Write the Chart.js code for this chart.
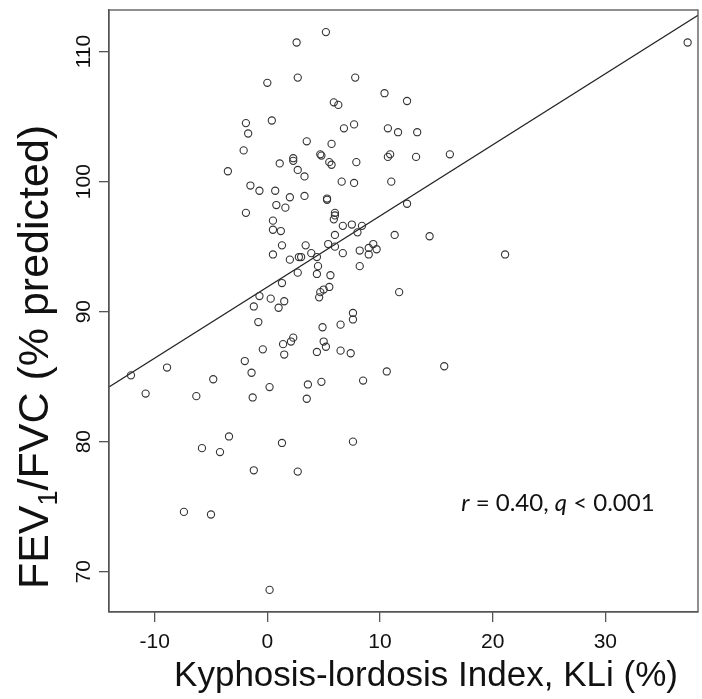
<!DOCTYPE html>
<html>
<head>
<meta charset="utf-8">
<script src="https://cdn.jsdelivr.net/npm/chart.js@4"></script>
<style>
  body { margin: 0; background: #fff; }
  #wrap { width: 702px; height: 699px; }
</style>
</head>
<body>
<div id="wrap"><canvas id="myChart"></canvas></div>
<script>
// Data

const kli = [
    2.6, 2.7, 0.0, -1.9, -1.7, 0.4, -2.1, 2.3, 2.3, 1.1, 2.7, -3.5, -1.5, -0.7, 0.7, 2.0, 5.2,
    7.8, 10.4, 5.9, 6.3, 6.8, 7.7, 10.7, 11.6, 3.5, 5.7, 4.7, 4.8, 5.5, 5.7, 7.9, 10.9, 10.7, 3.3,
    6.6, 7.7, 11.0, 3.3, 5.3, 12.4, 13.3, 13.2, 16.2, 12.4, 11.3, 14.4,
    21.1, 11.7, 10.6, 15.7,
    0.8, 1.6, -1.9, 0.5, 0.5, 1.2, 1.3, 0.5, 2.0, 2.8, 2.7, 1.3, -0.7, 0.3, 1.5, -1.2, 1.0, -0.8,
    2.3, 2.1, 1.4, -0.4, 1.5, -2.0, -1.4, -12.1, -8.9, -4.8, 0.2, -10.8, -6.3, -1.3,
    5.3, 6.0, 6.0, 5.9, 6.7, 7.5, 8.4, 8.0, 6.0, 3.4, 5.4, 6.0, 8.2, 9.0, 9.4, 9.7, 9.0, 6.7, 3.0,
    3.9, 4.4, 8.2, 4.5, 4.4, 5.6, 5.5, 5.0, 4.7, 4.6, 7.6, 7.6, 4.9, 6.5, 5.0, 5.2, 4.4, 6.5, 7.4,
    3.6, 4.8, 8.5, 3.5,
    -3.4, -5.8, -4.2, 1.3, -1.2, 2.7, -7.4, -5.0, 0.2, 7.6, 37.3
];
const fev = [
    110.7, 108.0, 107.6, 104.5, 103.7, 104.7, 102.4, 101.8, 101.6, 101.4, 100.9, 100.8, 99.7, 99.3, 99.3, 98.8, 111.5,
    108.0, 106.8, 106.1, 105.9, 104.1, 104.4, 104.1, 103.8, 103.1, 102.9, 102.1, 102.0, 101.5, 101.3, 101.5, 102.1, 101.9, 100.4,
    100.0, 99.9, 100.0, 98.9, 98.7, 106.2, 103.8, 101.9, 102.1, 98.3, 95.9, 95.8,
    94.4, 91.5, 85.4, 85.8,
    98.2, 98.0, 97.6, 97.0, 96.3, 96.2, 95.1, 94.4, 94.0, 94.2, 93.0, 92.2, 91.2, 91.0, 90.8, 90.4, 90.3, 89.2,
    88.0, 87.7, 87.5, 87.1, 86.7, 86.2, 85.3, 85.1, 85.7, 84.8, 84.2, 83.7, 83.5, 83.4,
    98.6, 97.6, 97.4, 97.1, 96.6, 96.7, 96.6, 96.1, 95.9, 95.1, 95.2, 95.0, 94.7, 94.9, 95.2, 94.8, 94.4, 94.5, 94.2,
    94.5, 94.2, 93.5, 93.5, 92.9, 92.8, 91.9, 91.7, 91.5, 91.1, 89.9, 89.4, 88.8, 89.0, 87.7, 87.3, 86.9, 87.0, 86.8,
    84.4, 84.6, 84.7, 83.3,
    80.4, 79.5, 79.2, 79.9, 77.8, 77.7, 74.6, 74.4, 68.6, 80.0, 110.7
];

// regression line end points (left and right edge of the plot)
const fitX = [-14.05, 38.22];
const fitY = [84.2, 112.8];

const xTicks = [-10, 0, 10, 20, 30];
const yTicks = [70, 80, 90, 100, 110];

const xTitle = "Kyphosis-lordosis Index, KLi (%)";
const statText = ["r", " = 0.40, ", "q", " < 0.001"];

// Setup

const axisColor = "#555";

const data = {
    datasets: [
        {
            type: "scatter",
            data: kli.map((x, i) => ({ x: x, y: fev[i] })),
            pointStyle: "circle",
            pointRadius: 3.6,
            borderColor: "#333",
            borderWidth: 1.1,
            backgroundColor: "rgba(0,0,0,0)"
        },
        {
            type: "line",
            data: fitX.map((x, i) => ({ x: x, y: fitY[i] })),
            borderColor: "#222",
            borderWidth: 1.2,
            pointRadius: 0,
            fill: false
        }
    ]
};

// Text drawn by hand (rotated tick labels, subscript in title)

const labelsPlugin = {
    id: "labels",
    afterDraw(chart) {
        const ctx = chart.ctx;
        const a = chart.chartArea;
        const xs = chart.scales.x, ys = chart.scales.y;
        ctx.save();

        // box
        ctx.strokeStyle = axisColor;
        ctx.lineWidth = 1.3;
        ctx.strokeRect(a.left, a.top, a.right - a.left, a.bottom - a.top);

        ctx.fillStyle = "#111";
        ctx.font = "21px 'Liberation Sans', Arial, sans-serif";
        ctx.textAlign = "center";
        ctx.textBaseline = "alphabetic";
        for (const t of xTicks) {
            ctx.fillText(String(t), xs.getPixelForValue(t), 648);
        }
        for (const t of yTicks) {
            ctx.save();
            ctx.translate(90, ys.getPixelForValue(t));
            ctx.rotate(-Math.PI / 2);
            ctx.fillText(String(t), 0, 0);
            ctx.restore();
        }

        // x title
        ctx.font = "35px 'Liberation Sans', Arial, sans-serif";
        ctx.fillText(xTitle, 426, 686);

        // y title with subscript
        const big = "43px 'Liberation Sans', Arial, sans-serif";
        const small = "27px 'Liberation Sans', Arial, sans-serif";
        const parts = [["FEV", big, 0], ["1", small, 9], ["/FVC (% predicted)", big, 0]];
        let total = 0;
        for (const p of parts) { ctx.font = p[1]; total += ctx.measureText(p[0]).width; }
        ctx.save();
        ctx.translate(48, 357);
        ctx.rotate(-Math.PI / 2);
        ctx.textAlign = "left";
        let pos = -total / 2;
        for (const p of parts) {
            ctx.font = p[1];
            ctx.fillText(p[0], pos, p[2]);
            pos += ctx.measureText(p[0]).width;
        }
        ctx.restore();

        // r / q annotation
        ctx.textAlign = "left";
        const fonts = ["italic 24px Lato, sans-serif", "24px Lato, sans-serif"];
        let w = 0;
        statText.forEach((s, i) => { ctx.font = fonts[i % 2]; w += ctx.measureText(s).width; });
        let sx = 558 - w / 2;
        statText.forEach((s, i) => {
            ctx.font = fonts[i % 2];
            ctx.fillText(s, sx, 511);
            sx += ctx.measureText(s).width;
        });
        ctx.restore();
    }
};

// Config

const config = {
    data,
    options: {
        responsive: true,
        maintainAspectRatio: false,
        animation: false,
        layout: {
            autoPadding: false,
            padding: { top: 10, right: 4, left: 0, bottom: 0 }
        },
        plugins: {
            legend: { display: false },
            tooltip: { enabled: false }
        },
        scales: {
            x: {
                type: "linear",
                min: -14.05,
                max: 38.22,
                afterBuildTicks: s => { s.ticks = xTicks.map(v => ({ value: v })); },
                afterFit: s => { s.height = 87; },
                ticks: { display: false },
                grid: { drawOnChartArea: false, tickLength: 10, color: axisColor, lineWidth: 1.3 },
                border: { color: axisColor, width: 1.3 }
            },
            y: {
                type: "linear",
                min: 66.9,
                max: 113.2,
                afterBuildTicks: s => { s.ticks = yTicks.map(v => ({ value: v })); },
                afterFit: s => { s.width = 109; },
                ticks: { display: false },
                grid: { drawOnChartArea: false, tickLength: 10, color: axisColor, lineWidth: 1.3 },
                border: { color: axisColor, width: 1.3 }
            }
        }
    },
    plugins: [labelsPlugin]
};

// Render init block

const myChart = new Chart(document.getElementById("myChart"), config);
</script>
</body>
</html>
